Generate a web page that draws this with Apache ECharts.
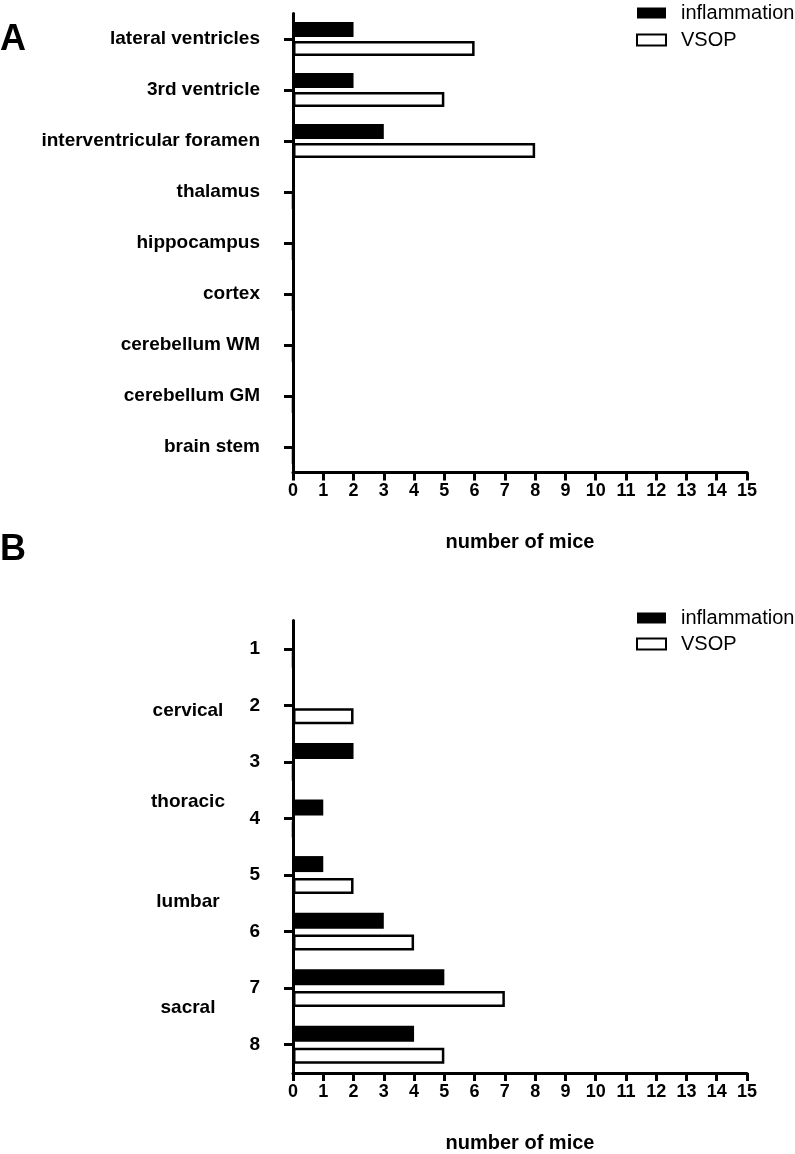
<!DOCTYPE html>
<html>
<head>
<meta charset="utf-8">
<script src="https://cdn.jsdelivr.net/npm/echarts@6/dist/echarts.min.js"></script>
<style>
html,body{margin:0;padding:0;background:#fff;}
#chart{width:795px;height:1154px;}
</style>
</head>
<body>
<div id="chart"></div>
<script>
// ---- data ----
var brainRegions = ['lateral ventricles', '3rd ventricle', 'interventricular foramen', 'thalamus', 'hippocampus', 'cortex', 'cerebellum WM', 'cerebellum GM', 'brain stem'];
var brainInflammation = [2, 2, 3, 0, 0, 0, 0, 0, 0];
var brainVSOP = [6, 5, 8, 0, 0, 0, 0, 0, 0];

var spinalSegments = ['1', '2', '3', '4', '5', '6', '7', '8'];
var spinalInflammation = [0, 0, 2, 1, 1, 3, 5, 4];
var spinalVSOP = [0, 2, 0, 0, 2, 4, 7, 5];

var spinalRegionNames = ['cervical', 'thoracic', 'lumbar', 'sacral'];
var spinalRegionPos = [1.1, 2.7, 4.47, 6.35]; // position along segment axis (0-based)

var xTicks = [0, 15, 1]; // min, max, interval
var xTitle = 'number of mice';
var seriesNames = ['inflammation', 'VSOP'];
var panelLetters = ['A', 'B'];

// ---- styles ----
var FONT = 'Liberation Sans, Arial, sans-serif';
function xAxisCfg(gridIndex) {
  return {
    type: 'value', gridIndex: gridIndex, min: xTicks[0], max: xTicks[1], interval: xTicks[2],
    name: xTitle, nameLocation: 'middle', nameGap: 60,
    nameTextStyle: {fontFamily: FONT, fontWeight: 'bold', fontSize: 20, color: '#000'},
    axisLine: {show: true, onZero: false, lineStyle: {color: '#000', width: 3}},
    axisTick: {show: true, length: 8, lineStyle: {color: '#000', width: 3}},
    axisLabel: {fontFamily: FONT, fontWeight: 'bold', fontSize: 18, color: '#000', margin: 10},
    splitLine: {show: false},
    z: 5
  };
}
function yAxisCfg(gridIndex, cats) {
  return {
    type: 'category', gridIndex: gridIndex, data: cats, inverse: true,
    axisLine: {show: true, onZero: false, lineStyle: {color: '#000', width: 3}},
    axisTick: {show: true, alignWithLabel: true, length: 9, lineStyle: {color: '#000', width: 3}},
    axisLabel: {fontFamily: FONT, fontWeight: 'bold', fontSize: 19, color: '#000', margin: 33},
    splitLine: {show: false},
    z: 5
  };
}
var inflStyle = {color: '#000'};
var vsopStyle = {color: '#fff', borderColor: '#000', borderWidth: 2.5};
var legendText = {fontFamily: FONT, fontSize: 20, color: '#000', padding: [0, 0, 0, 10]};

var chart = echarts.init(document.getElementById('chart'), null, {renderer: 'canvas'});
chart.setOption({
  animation: false,
  backgroundColor: '#fff',
  grid: [
    {left: 293, right: 48, top: 13.5, height: 459},
    {left: 293, right: 48, top: 620.5, height: 458}
  ],
  xAxis: [xAxisCfg(0), xAxisCfg(1)],
  yAxis: [
    yAxisCfg(0, brainRegions),
    yAxisCfg(1, spinalSegments),
    {type: 'value', gridIndex: 1, min: -0.5, max: spinalSegments.length - 0.5, inverse: true, show: false}
  ],
  legend: [
    {orient: 'vertical', left: 636, top: 3, padding: 0, itemWidth: 29, itemHeight: 11, itemGap: 7, icon: 'rect',
     data: seriesNames, textStyle: legendText},
    {orient: 'vertical', left: 636, top: 608, padding: 0, itemWidth: 29, itemHeight: 11, itemGap: 6, icon: 'rect',
     data: seriesNames, textStyle: legendText}
  ],
  series: [
    {name: seriesNames[0], type: 'bar', xAxisIndex: 0, yAxisIndex: 0, data: brainInflammation,
     barWidth: 15, barGap: '27%', itemStyle: inflStyle},
    {name: seriesNames[1], type: 'bar', xAxisIndex: 0, yAxisIndex: 0, data: brainVSOP,
     barWidth: 15, barGap: '27%', itemStyle: vsopStyle},
    {name: seriesNames[0], type: 'bar', xAxisIndex: 1, yAxisIndex: 1, data: spinalInflammation,
     barWidth: 16, barGap: '37%', itemStyle: inflStyle},
    {name: seriesNames[1], type: 'bar', xAxisIndex: 1, yAxisIndex: 1, data: spinalVSOP,
     barWidth: 16, barGap: '37%', itemStyle: vsopStyle},
    {name: 'regions', type: 'scatter', xAxisIndex: 1, yAxisIndex: 2, symbolSize: 0, silent: true,
     itemStyle: {opacity: 1, color: '#000'},
     data: spinalRegionNames.map(function (n, i) { return {value: [0, spinalRegionPos[i]], name: n}; }),
     label: {show: true, position: 'inside', offset: [-105, 0], align: 'center', verticalAlign: 'middle',
             formatter: '{b}', fontFamily: FONT, fontWeight: 'bold', fontSize: 19, color: '#000', opacity: 1}}
  ],
  graphic: [
    {type: 'text', left: 0, top: 22, style: {text: panelLetters[0], font: 'bold 36px ' + FONT, fill: '#000'}},
    {type: 'text', left: 0, top: 532, style: {text: panelLetters[1], font: 'bold 36px ' + FONT, fill: '#000'}}
  ]
});
</script>
</body>
</html>
